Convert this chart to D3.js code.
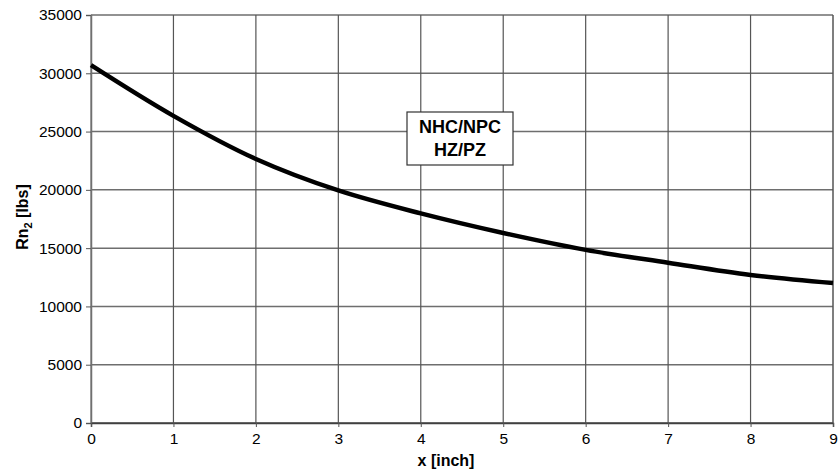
<!DOCTYPE html>
<html><head><meta charset="utf-8">
<script src="https://cdn.jsdelivr.net/npm/d3@7"></script>
<style>body{margin:0;background:#fff;}svg{display:block;}text{font-family:Arial,"Liberation Sans",sans-serif;}</style>
</head><body>
<script>
const xValues = [0,1,2,3,4,5,6,7,8,9];
const rnValues = [30700,26350,22650,19950,17980,16300,14850,13750,12700,12000];
const xTicks = [0,1,2,3,4,5,6,7,8,9];
const yTicks = [0,5000,10000,15000,20000,25000,30000,35000];
const annotationLines = ["NHC/NPC","HZ/PZ"];

const W=838,H=474;
const L=91,R=833,T=15,B=423;
const FONT="Arial, Liberation Sans, sans-serif";
const svg=d3.select("body").append("svg").attr("width",W).attr("height",H);
const x=d3.scaleLinear().domain([0,9]).range([L,R]);
const y=d3.scaleLinear().domain([0,35000]).range([B,T]);

// grid
svg.append("g").selectAll("line").data(yTicks).join("line")
  .attr("x1",L).attr("x2",R).attr("y1",d=>y(d)).attr("y2",d=>y(d))
  .attr("stroke",d=>d===0?"#404040":"#6e6e6e").attr("stroke-width",1.5);
svg.append("g").selectAll("line").data(xTicks).join("line")
  .attr("y1",T).attr("y2",B).attr("x1",d=>x(d)).attr("x2",d=>x(d))
  .attr("stroke",d=>d===0?"#707070":"#555").attr("stroke-width",d=>d===9?1.5:1.2);

// axes
const yAxis=d3.axisLeft(y).tickValues(yTicks).tickSize(5).tickPadding(4).tickFormat(d3.format("d"));
const gy=svg.append("g").attr("transform",`translate(${L},0)`).call(yAxis);
gy.select(".domain").attr("stroke","#707070").attr("stroke-width",1.5);
gy.selectAll(".tick line").attr("stroke","#555");
gy.selectAll("text").attr("font-size",15.5).attr("fill","#000").attr("font-family",FONT);

const xAxis=d3.axisBottom(x).tickValues(xTicks).tickSize(4).tickPadding(5).tickFormat(d3.format("d"));
const gx=svg.append("g").attr("transform",`translate(0,${B})`).call(xAxis);
gx.select(".domain").attr("stroke","#404040").attr("stroke-width",1.5);
gx.selectAll(".tick line").attr("stroke","#555");
gx.selectAll("text").attr("font-size",15.5).attr("fill","#000").attr("font-family",FONT)
  .attr("y",21).attr("dy",null);

// axis titles
svg.append("text").attr("x",446).attr("y",466).attr("text-anchor","middle")
  .attr("font-size",16).attr("font-weight","bold").text("x [inch]");
const yl=svg.append("text").attr("transform",`translate(28,217) rotate(-90)`)
  .attr("text-anchor","middle").attr("font-size",16).attr("font-weight","bold");
yl.append("tspan").text("Rn");
yl.append("tspan").attr("font-size",11).attr("dy",4).text("2");
yl.append("tspan").attr("dy",-4).text(" [lbs]");

// line
const line=d3.line().x((d,i)=>x(xValues[i])).y(d=>y(d)).curve(d3.curveCatmullRom.alpha(0.5));
svg.append("path").datum(rnValues).attr("d",line).attr("fill","none")
  .attr("stroke","#000").attr("stroke-width",4.5).attr("stroke-linejoin","round");

// annotation box
const bx=407,by=112,bw=106,bh=53;
svg.append("rect").attr("x",bx).attr("y",by).attr("width",bw).attr("height",bh)
  .attr("fill","#fff").attr("stroke","#333").attr("stroke-width",1.2);
svg.append("g").selectAll("text").data(annotationLines).join("text")
  .attr("x",bx+bw/2).attr("y",(d,i)=>by+21+i*22.5).attr("text-anchor","middle")
  .attr("font-size",18).attr("font-weight","bold").text(d=>d);
</script>
</body></html>
